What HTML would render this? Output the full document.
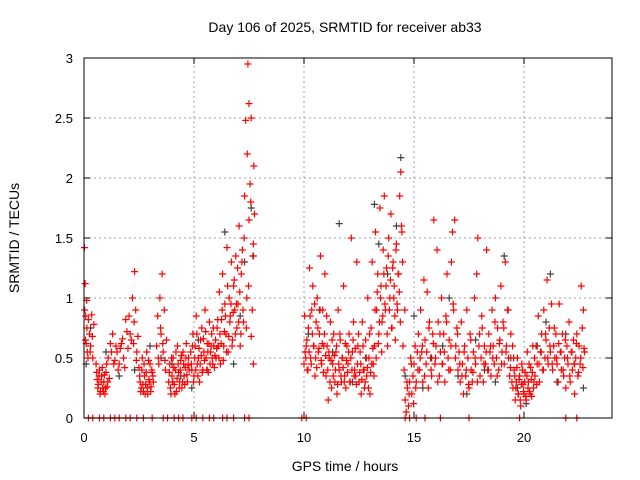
<!DOCTYPE html>
<html><head><meta charset="utf-8"><style>
html,body{margin:0;padding:0;background:#fff;}
svg{display:block;font-family:"Liberation Sans",sans-serif;}
</style></head><body>
<svg id="chart" width="640" height="480" viewBox="0 0 640 480" xmlns="http://www.w3.org/2000/svg">
<rect x="0" y="0" width="640" height="480" fill="#fff"/>
<text x="345" y="32" text-anchor="middle" font-size="14" fill="#000">Day 106 of 2025, SRMTID for receiver ab33</text>
<text x="345" y="471" text-anchor="middle" font-size="14" fill="#000">GPS time / hours</text>
<text transform="translate(19,238) rotate(-90)" text-anchor="middle" font-size="14" fill="#000">SRMTID / TECUs</text>
<g id="grid"></g>
<g id="ticks"></g>
<g id="grey"></g>
<g id="red"></g>
<rect x="84" y="58" width="528" height="360" fill="none" stroke="#000" stroke-width="1"/>
</svg>
<script>
const xTicks=[0,5,10,15,20];
const yTicks=[0,0.5,1,1.5,2,2.5,3];
const yTickLabels=["0","0.5","1","1.5","2","2.5","3"];
const redT=[0.02,0.05,0.08,0.1,0.12,0.15,0.2,0.25,0.3,0.35,0.4,0.45,
0.55,0.6,0.65,0.7,0.75,0.8,0.85,0.9,0.95,1.0,1.05,1.1,1.15,
1.2,1.3,1.4,1.5,1.6,1.7,1.8,1.9,2.0,
2.05,2.1,2.2,2.25,2.3,2.35,2.4,2.45,
2.5,2.55,2.6,2.65,2.7,2.75,2.8,2.85,2.9,2.95,3.0,3.05,3.1,3.15,
3.3,3.35,3.4,3.45,3.5,3.55,3.6,3.65,3.7,3.75,
3.85,3.9,3.95,4.0,4.05,4.1,4.15,4.2,4.25,4.3,4.35,4.4,4.45,4.5,4.55,4.6,4.65,4.7,4.75,
4.85,4.9,4.95,5.0,5.05,5.1,5.15,5.2,5.25,5.3,5.35,5.4,5.45,5.5,5.55,5.6,5.65,5.7,5.75,5.8,5.85,5.9,5.95,
6.0,6.05,6.1,6.15,6.2,6.25,6.3,6.35,6.4,6.45,6.5,6.55,6.6,6.65,6.7,6.75,6.8,6.85,6.9,6.95,
7.0,7.05,7.1,7.15,7.2,7.25,7.3,7.35,7.4,7.45,7.5,7.55,7.6,7.65,7.7,7.75,7.5,7.42,7.6,7.7,
10.0,10.05,10.1,10.15,10.2,10.25,10.3,10.35,10.4,10.45,10.5,10.55,10.6,10.65,10.7,10.75,10.8,10.85,10.9,10.95,
11.0,11.05,11.1,11.15,11.2,11.25,11.3,11.35,11.4,11.45,11.5,11.55,11.6,11.65,11.7,11.75,11.8,11.85,11.9,11.95,12.0,12.05,12.1,12.15,12.2,12.25,12.3,12.35,12.4,12.45,
12.5,12.55,12.6,12.65,12.7,12.75,12.8,12.85,12.9,12.95,13.0,13.05,13.1,13.15,13.2,13.25,13.3,13.35,13.4,13.45,
13.5,13.55,13.6,13.65,13.7,13.75,13.8,13.85,13.9,13.95,14.0,14.05,14.1,14.15,14.2,14.25,14.3,14.35,14.4,14.45,
14.5,14.55,14.6,14.65,14.7,14.75,14.8,14.85,14.9,14.95,15.0,15.05,15.1,15.15,
15.2,15.25,15.3,15.35,15.4,15.45,15.5,15.55,15.6,15.65,15.7,15.75,15.8,15.85,15.9,15.95,
16.0,16.05,16.1,16.15,16.2,16.25,16.3,16.35,16.4,16.45,16.5,16.55,16.6,16.65,16.7,16.75,16.8,16.85,16.9,16.95,
17.0,17.05,17.1,17.15,17.2,17.25,17.3,17.35,17.4,17.45,17.5,17.55,17.6,17.65,17.7,17.75,17.8,17.85,17.9,17.95,
18.0,18.05,18.1,18.15,18.2,18.25,18.3,18.35,18.4,18.45,18.5,18.55,18.6,18.65,18.7,18.75,18.8,18.85,18.9,18.95,19.0,19.05,19.1,19.15,19.2,19.25,19.3,19.35,19.4,19.45,
19.5,19.55,19.6,19.65,19.7,19.75,19.8,19.85,19.9,19.95,20.0,20.05,20.1,20.15,20.2,20.25,20.3,20.35,20.4,20.45,
20.5,20.55,20.6,20.65,20.7,20.75,20.8,20.85,20.9,20.95,21.0,21.05,21.1,21.15,21.2,21.25,21.3,21.35,21.4,21.45,
21.5,21.55,21.6,21.65,21.7,21.75,21.8,21.85,21.9,21.95,22.0,22.05,22.1,22.15,22.2,22.25,22.3,22.35,22.4,22.45,22.5,22.55,22.6,22.65,22.7,22.75];
const redV=[1.42,1.12,0.85,0.62,0.98,0.55,0.82,0.7,0.6,0.86,0.5,0.78,
0.45,0.32,0.28,0.4,0.22,0.35,0.25,0.3,0.2,0.38,0.26,0.5,0.33,
0.62,0.7,0.48,0.55,0.45,0.62,0.5,0.82,0.58,
0.85,0.7,1.0,0.62,1.22,0.9,0.55,0.68,
0.42,0.3,0.25,0.5,0.22,0.35,0.28,0.55,0.2,0.32,0.45,0.26,0.38,0.3,
0.6,0.85,0.45,1.0,0.7,1.2,0.55,0.9,0.4,0.65,
0.3,0.45,0.2,0.35,0.5,0.28,0.4,0.22,0.6,0.38,0.3,0.48,0.25,0.55,0.35,0.42,0.62,0.3,0.5,
0.55,0.4,0.7,0.35,0.6,0.85,0.45,0.5,0.3,0.65,0.75,0.4,0.55,0.9,0.5,0.62,0.38,0.8,0.55,0.7,0.45,0.6,0.52,
0.5,0.75,0.6,1.05,0.45,0.82,1.2,0.6,0.95,0.7,1.42,0.55,1.0,0.85,1.3,0.65,1.1,0.9,1.35,0.75,
0.95,1.6,0.6,1.2,1.4,0.8,1.85,2.48,1.0,2.95,2.62,1.95,2.5,0.9,1.45,1.7,1.65,2.2,0.68,0.45,
0.45,0.55,0.6,0.4,0.75,1.25,0.5,0.9,1.1,0.6,0.35,0.8,1.0,0.55,0.7,1.35,0.45,0.9,0.6,1.2,
0.35,0.6,0.15,0.5,0.8,0.25,0.45,0.7,0.3,0.55,0.2,0.9,0.4,0.65,0.3,0.5,1.1,0.35,0.25,0.6,0.45,0.7,0.3,1.5,0.55,0.8,0.4,0.35,1.3,0.6,
0.3,0.55,0.2,0.8,0.4,0.25,0.65,0.35,1.0,0.5,0.2,0.75,1.3,0.45,0.6,1.55,0.9,1.2,0.7,1.75,
1.1,0.8,1.4,1.85,0.9,1.25,0.6,1.5,1.0,1.7,0.75,1.3,1.1,0.65,1.45,0.9,1.2,1.85,2.05,1.55,
0.6,0.4,0.15,0.05,0.25,0.1,0.3,0.5,0.2,0.35,0.45,0.6,0.3,0.55,
0.7,0.4,0.9,0.55,0.3,1.15,0.65,0.45,1.05,0.25,0.8,0.5,0.35,0.7,1.65,0.45,
0.6,1.4,0.8,0.35,0.55,1.0,0.45,0.7,0.3,0.85,1.2,0.5,0.65,0.4,1.3,1.55,0.9,1.65,0.6,0.75,
0.4,0.55,0.3,0.8,0.45,0.2,0.6,0.35,0.9,0.5,0.25,0.7,0.4,0.3,0.55,1.0,0.45,1.2,1.5,0.6,
0.35,0.5,0.75,0.3,0.6,0.45,1.4,0.4,0.7,0.55,0.35,0.9,0.6,0.45,1.0,0.5,0.75,0.4,0.65,1.1,0.55,0.8,0.45,1.3,0.6,0.9,0.5,0.35,0.7,0.3,
0.25,0.4,0.15,0.3,0.5,0.2,0.35,0.1,0.45,0.28,0.2,0.38,0.15,0.55,0.3,0.22,0.42,0.18,0.6,0.3,
0.35,0.6,0.45,0.85,0.3,0.55,0.7,0.4,0.9,0.5,0.65,1.15,0.45,0.75,0.55,0.95,0.4,0.6,0.5,0.7,
0.45,0.3,0.95,0.55,0.4,0.7,0.35,0.5,0.25,0.6,0.45,0.8,0.3,0.55,0.4,0.65,0.2,0.5,0.7,0.35,0.6,0.45,1.1,0.75,0.9,0.55];
const red2T=[0.03,0.07,0.13,0.18,0.28,0.38,0.58,0.63,0.68,0.73,0.78,0.83,0.88,0.93,0.98,1.03,1.08,1.25,1.35,1.45,1.55,1.65,1.75,1.85,1.95,2.15,2.28,2.38,2.53,2.58,2.63,2.68,2.73,2.78,2.83,2.88,2.93,2.98,3.03,3.08,3.13,3.38,3.48,3.58,3.68,3.88,3.93,3.98,4.03,4.08,4.13,4.18,4.23,4.28,4.33,4.38,4.43,4.48,4.53,4.58,4.63,4.68,4.73,4.78,4.88,4.93,4.98,5.03,5.08,5.13,5.18,5.23,5.28,5.33,5.38,5.43,5.48,5.53,5.58,5.63,5.68,5.73,5.78,5.83,5.88,5.93,5.98,6.03,6.08,6.13,6.18,6.23,6.28,6.33,6.38,6.43,6.48,6.53,6.58,6.63,6.68,6.73,6.78,6.83,6.88,6.93,6.98,7.03,7.08,7.13,7.18,7.23,7.28,7.38,7.48,7.58,7.68,7.72,
10.03,10.08,10.13,10.18,10.23,10.28,10.33,10.38,10.43,10.48,10.53,10.58,10.63,10.68,10.73,10.78,10.83,10.88,10.93,10.98,11.03,11.08,11.13,11.18,11.23,11.28,11.33,11.38,11.43,11.48,11.53,11.58,11.63,11.68,11.73,11.78,11.83,11.88,11.93,11.98,12.03,12.08,12.13,12.18,12.23,12.28,12.33,12.38,12.43,12.48,12.53,12.58,12.63,12.68,12.73,12.78,12.83,12.88,12.93,12.98,13.03,13.08,13.13,13.18,13.23,13.28,13.33,13.38,13.43,13.48,13.53,13.58,13.63,13.68,13.73,13.78,13.83,13.88,13.93,13.98,14.03,14.08,14.13,14.18,14.23,14.28,14.33,14.38,14.43,14.48,14.58,14.68,14.78,14.88,14.98,15.08,15.18,15.28,15.38,15.48,15.58,15.68,15.78,15.88,15.98,16.08,16.18,16.28,16.38,16.48,16.58,16.68,16.78,16.88,16.98,17.08,17.18,17.28,17.38,17.48,17.58,17.68,17.78,17.88,17.98,18.08,18.18,18.28,18.38,18.48,18.58,18.68,18.78,18.88,18.98,19.08,19.18,19.28,19.38,19.48,19.53,19.58,19.63,19.68,19.73,19.78,19.83,19.88,19.93,19.98,20.03,20.08,20.13,20.18,20.23,20.28,20.33,20.38,20.43,20.48,20.58,20.68,20.78,20.88,20.98,21.08,21.18,21.28,21.38,21.48,21.58,21.68,21.78,21.88,21.98,22.08,22.18,22.28,22.38,22.48,22.58,22.68,22.73];
const red2V=[0.9,0.65,0.75,0.5,0.55,0.68,0.38,0.25,0.35,0.2,0.3,0.42,0.22,0.36,0.25,0.45,0.3,0.55,0.45,0.6,0.4,0.58,0.66,0.42,0.72,0.65,0.8,0.48,0.35,0.22,0.4,0.28,0.45,0.2,0.38,0.25,0.48,0.3,0.22,0.4,0.35,0.5,0.75,0.62,0.48,0.38,0.25,0.5,0.3,0.42,0.2,0.55,0.33,0.45,0.25,0.4,0.52,0.3,0.45,0.28,0.5,0.36,0.44,0.4,0.45,0.6,0.3,0.5,0.4,0.7,0.35,0.58,0.45,0.52,0.38,0.66,0.48,0.72,0.4,0.55,0.62,0.45,0.6,0.5,0.75,0.42,0.65,0.58,0.82,0.5,0.7,0.62,0.9,0.48,0.72,0.85,0.55,1.1,0.68,0.8,0.95,0.6,0.88,1.15,0.7,0.95,1.25,0.8,1.05,0.7,1.3,0.9,1.5,0.75,1.1,1.8,1.35,2.1,0.85,
0.5,0.65,0.4,0.55,0.85,0.45,0.7,0.6,0.95,0.5,0.42,0.75,0.58,0.9,0.48,0.62,0.38,0.7,0.52,0.85,0.4,0.55,0.3,0.48,0.65,0.35,0.52,0.4,0.6,0.28,0.45,0.7,0.35,0.5,0.42,0.3,0.62,0.48,0.38,0.55,0.3,0.5,0.4,0.65,0.35,0.58,0.28,0.45,0.7,0.38,0.45,0.32,0.6,0.4,0.3,0.5,0.42,0.25,0.7,0.38,0.45,0.58,0.35,0.9,0.5,1.05,0.62,0.8,1.0,0.55,0.85,1.2,0.95,1.1,0.7,1.35,0.9,1.15,0.75,1.25,1.0,0.85,1.4,0.95,1.2,1.05,0.8,1.6,1.3,0.9,0.3,0.2,0.45,0.12,0.25,0.4,0.5,0.6,0.35,0.55,0.75,0.4,0.62,0.5,0.3,0.7,0.45,0.55,0.8,0.4,0.6,0.95,0.5,0.7,0.45,0.35,0.55,0.4,0.28,0.65,0.38,0.5,0.3,0.7,0.85,0.45,0.55,0.4,0.6,0.5,0.8,0.35,0.62,0.45,0.75,0.55,0.9,0.42,0.6,0.5,0.35,0.25,0.42,0.2,0.32,0.15,0.28,0.4,0.22,0.3,0.18,0.35,0.25,0.45,0.2,0.32,0.38,0.25,0.5,0.28,0.45,0.55,0.4,0.7,0.5,0.6,0.45,0.75,0.5,0.62,0.55,0.4,0.65,0.5,0.35,0.55,0.45,0.62,0.38,0.5,0.42,0.58,0.45];
const zeroT=[0.2,0.4,0.7,0.9,1.2,1.4,1.6,1.9,2.1,2.4,2.7,3.1,3.6,3.8,4.1,4.3,4.5,4.9,5.1,5.4,5.7,5.9,6.3,6.5,6.8,7.3,7.5,9.9,10.1,14.6,14.8,15.1,15.5,16.2,17.5,19.8,21.9,22.4];
const greyT=[0.1,0.3,1.0,1.6,2.3,3.0,3.5,4.0,4.4,4.9,5.2,5.6,6.1,6.4,6.8,7.1,7.3,7.6,7.7,10.2,10.7,11.3,11.6,12.2,12.8,13.2,13.4,13.8,14.2,14.4,14.6,15.0,15.4,15.8,16.3,16.6,17.0,17.4,17.8,18.2,18.7,19.1,19.4,19.7,20.1,20.6,21.0,21.2,21.5,21.9,22.3,22.7];
const greyV=[0.45,0.75,0.55,0.35,0.4,0.6,0.5,0.45,0.35,0.25,0.65,0.4,0.6,1.55,0.45,0.85,1.3,1.75,1.35,0.7,0.9,0.55,1.62,0.3,0.5,1.78,1.45,1.2,1.6,2.17,0.35,0.85,0.25,0.5,0.6,1.0,0.35,0.2,0.65,0.4,0.3,1.35,0.5,0.25,0.12,0.6,0.8,1.2,0.3,0.7,0.45,0.25];

const X0=84,X1=612,Y0=418,Y1=58,XMAX=24,YMAX=3;
function xs(t){return X0+(X1-X0)*t/XMAX;}
function ys(v){return Y0-(Y0-Y1)*v/YMAX;}
const NS="http://www.w3.org/2000/svg";
function mk(tag,attrs,parent){const e=document.createElementNS(NS,tag);for(const k in attrs)e.setAttribute(k,attrs[k]);parent.appendChild(e);return e;}
const grid=document.getElementById('grid'),ticks=document.getElementById('ticks');
xTicks.forEach(t=>{
  const x=xs(t);
  if(t>0){const g=mk('line',{x1:x,y1:Y0,x2:x,y2:Y1,stroke:'#a0a0a0','stroke-dasharray':'2,3'},grid);
  
  }
  mk('line',{x1:x,y1:Y0,x2:x,y2:Y0-6,stroke:'#000'},ticks);
  mk('line',{x1:x,y1:Y1,x2:x,y2:Y1+6,stroke:'#000'},ticks);
  const l=mk('text',{x:x,y:Y0+24,'text-anchor':'middle','font-size':'13'},ticks);l.textContent=t;
  
  
});
yTicks.forEach((v,i)=>{
  const y=ys(v);
  if(v>0&&v<YMAX){const g=mk('line',{x1:X0,y1:y,x2:X1,y2:y,stroke:'#a0a0a0','stroke-dasharray':'2,3'},grid);
  
  }
  mk('line',{x1:X0,y1:y,x2:X0+6,y2:y,stroke:'#000'},ticks);
  mk('line',{x1:X1,y1:y,x2:X1-6,y2:y,stroke:'#000'},ticks);
  const l=mk('text',{x:X0-11,y:y+5,'text-anchor':'end','font-size':'13'},ticks);l.textContent=yTickLabels[i];
  
  
});
function plus(g,t,v,col){
  const x=xs(t),y=ys(v);
  const p=mk('path',{d:`M${x-3.5} ${y}H${x+3.5}M${x} ${y-3.5}V${y+3.5}`,stroke:col,'stroke-width':'1.2',fill:'none'},g);
  
  
}
const grey=document.getElementById('grey'),red=document.getElementById('red');
greyT.forEach((t,i)=>plus(grey,t,greyV[i],'#404040'));
redT.forEach((t,i)=>plus(red,t,redV[i],'#ff0000'));
red2T.forEach((t,i)=>plus(red,t,red2V[i],'#ff0000'));
zeroT.forEach(t=>plus(red,t,0,'#ff0000'));
</script>
</body></html>
